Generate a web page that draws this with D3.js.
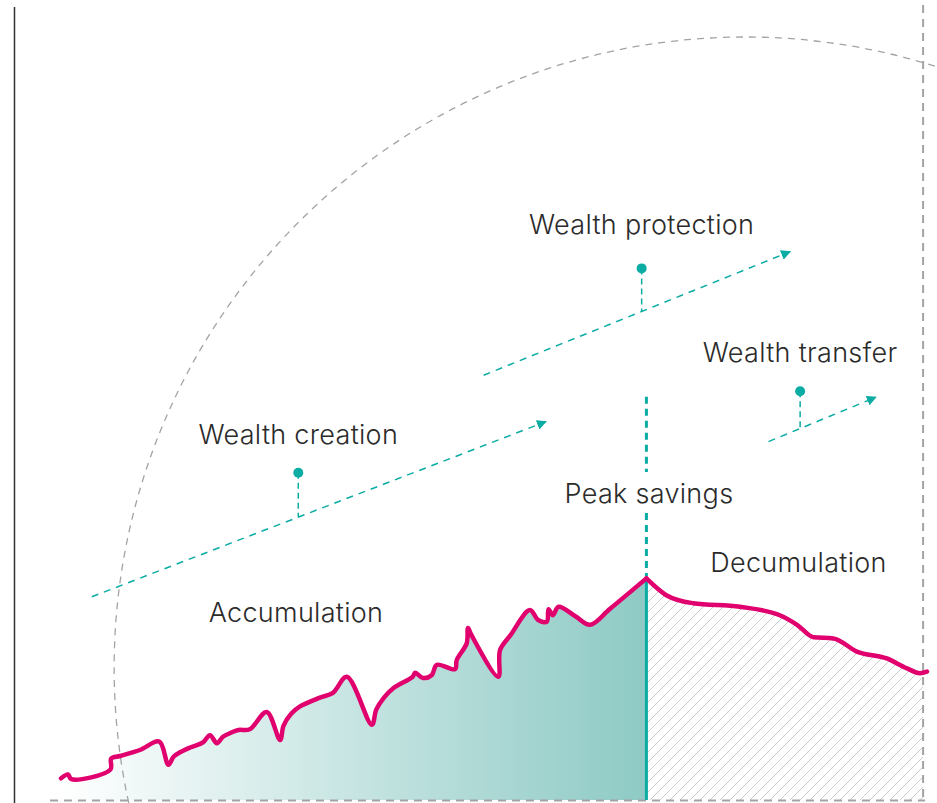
<!DOCTYPE html>
<html>
<head>
<meta charset="utf-8">
<script src="https://cdn.jsdelivr.net/npm/d3@7"></script>
<style>
  body { margin: 0; background: #fff; }
  text { font-family: Inter, "Noto Sans", sans-serif; font-weight: 300; fill: #2b2b2b; letter-spacing: 0.3px; }
</style>
</head>
<body>
<div id="chart"></div>
<script>
// wealth over time (t = life stage 0..100, w = wealth index)
var accumT = [0, 0.8, 1.2, 5.7, 5.8, 6.8, 9.1, 11.35, 12.4, 13.0, 13.8, 15.0, 16.4, 17.2, 18.0, 18.7, 19.6, 20.5, 21.8, 23.75, 25.3, 25.7, 26.6, 27.6, 29.9, 31.4, 33.0, 35.9, 36.4, 37.3, 38.4, 40.6, 40.9, 41.8, 42.8, 43.4, 45.5, 45.7, 46.85, 47.0, 47.4, 50.5, 50.7, 51.9, 54.15, 55.1, 56.1, 56.3, 56.8, 57.45, 59.35, 61.1, 63.4, 67.6];
var accumW = [2.7, 3.2, 2.6, 3.8, 5.2, 5.5, 6.25, 7.3, 4.4, 5.4, 6.0, 6.6, 7.2, 8.1, 7.1, 7.9, 8.4, 8.75, 8.85, 11.0, 7.5, 9.3, 10.8, 11.7, 12.8, 13.4, 15.4, 9.4, 11.3, 12.8, 14.0, 15.4, 15.9, 15.25, 15.6, 16.9, 16.35, 17.5, 19.6, 21.5, 20.6, 15.4, 18.75, 20.6, 23.75, 22.5, 22.3, 23.85, 23.1, 24.15, 23.0, 21.9, 23.9, 27.7];
var decumT = [67.6, 69.9, 73.0, 78.4, 83.0, 85.0, 86.9, 89.2, 91.9, 95.35, 97.7, 99.2, 100];
var decumW = [27.7, 25.6, 24.6, 24.15, 23.1, 21.9, 20.35, 20.2, 18.55, 17.7, 16.45, 15.85, 16.05];

// phase arrows
var phaseNames = ["Wealth creation", "Wealth protection", "Wealth transfer"];
var phaseStartT = [3.55, 48.8, 81.7];
var phaseStartW = [25.4, 53.1, 44.8];
var phaseEndT = [56.0, 84.2, 94.1];
var phaseEndW = [47.3, 68.55, 50.35];
var phaseDotT = [27.4, 67.05, 85.35];
var phaseDotW = [40.9, 66.45, 51.1];

var peakT = 67.6;
var peakTopW = 50.4;
var endT = 99.55;

var width = 937, height = 803;
var svg = d3.select("#chart").append("svg")
    .attr("width", width)
    .attr("height", height);

var x = d3.scaleLinear().domain([0, 100]).range([61, 927]);
var y = d3.scaleLinear().domain([0, 100]).range([800, 0]);

var teal = "#0aaca4";
var pink = "#e0006e";
var gray = "#a3a3a3";

var accum = accumT.map((t, i) => ({t: t, w: accumW[i]}));
var decum = decumT.map((t, i) => ({t: t, w: decumW[i]}));

var defs = svg.append("defs");
var grad = defs.append("linearGradient")
    .attr("id", "accGrad")
    .attr("gradientUnits", "userSpaceOnUse")
    .attr("x1", x(0)).attr("x2", x(peakT))
    .attr("y1", 0).attr("y2", 0);
grad.append("stop").attr("offset", "0%").attr("stop-color", "#ffffff");
grad.append("stop").attr("offset", "100%").attr("stop-color", "#8ecac5");

var hatch = defs.append("pattern")
    .attr("id", "hatch")
    .attr("patternUnits", "userSpaceOnUse")
    .attr("width", 10).attr("height", 10);
hatch.append("rect").attr("width", 10).attr("height", 10).attr("fill", "#fff");
hatch.append("path")
    .attr("d", "M-2,12 L12,-2 M-2,2 L2,-2 M8,12 L12,8")
    .attr("stroke", "#cacaca")
    .attr("stroke-width", 1);

var curve = d3.curveCatmullRom.alpha(0.5);

// accumulation area
svg.append("path")
    .datum(accum)
    .attr("fill", "url(#accGrad)")
    .attr("d", d3.area().curve(curve).x(d => x(d.t)).y0(y(0)).y1(d => y(d.w)));

// decumulation area (hatched), clipped at the right dashed line
defs.append("clipPath").attr("id", "decClip")
  .append("rect")
    .attr("x", x(peakT)).attr("y", 0)
    .attr("width", x(endT) - x(peakT)).attr("height", y(0));
svg.append("path")
    .datum(decum)
    .attr("clip-path", "url(#decClip)")
    .attr("fill", "url(#hatch)")
    .attr("d", d3.area().curve(d3.curveMonotoneX).x(d => x(d.t)).y0(y(0)).y1(d => y(d.w)));

// big dashed arc
svg.append("circle")
    .attr("cx", x(79)).attr("cy", y(16.5))
    .attr("r", 631)
    .attr("fill", "none")
    .attr("stroke", gray)
    .attr("stroke-width", 1.3)
    .attr("stroke-dasharray", "7,6");

// frame lines
svg.append("line")
    .attr("x1", 14.5).attr("x2", 14.5)
    .attr("y1", 7).attr("y2", height)
    .attr("stroke", "#333").attr("stroke-width", 1.5);
svg.append("line")
    .attr("x1", 50).attr("x2", x(endT) + 2)
    .attr("y1", y(0) + 0.5).attr("y2", y(0) + 0.5)
    .attr("stroke", gray).attr("stroke-width", 2)
    .attr("stroke-dasharray", "8,6");
svg.append("line")
    .attr("x1", x(endT)).attr("x2", x(endT))
    .attr("y1", 5).attr("y2", y(0))
    .attr("stroke", gray).attr("stroke-width", 2)
    .attr("stroke-dasharray", "8,6");

// peak savings marker
svg.append("line")
    .attr("x1", x(peakT)).attr("x2", x(peakT))
    .attr("y1", y(accumW[accumW.length - 1])).attr("y2", y(0))
    .attr("stroke", teal).attr("stroke-width", 3);
svg.append("line")
    .attr("x1", x(peakT)).attr("x2", x(peakT))
    .attr("y1", y(peakTopW)).attr("y2", 472)
    .attr("stroke", teal).attr("stroke-width", 3)
    .attr("stroke-dasharray", "7,5");
svg.append("line")
    .attr("x1", x(peakT)).attr("x2", x(peakT))
    .attr("y1", 513).attr("y2", y(accumW[accumW.length - 1]) - 2)
    .attr("stroke", teal).attr("stroke-width", 3)
    .attr("stroke-dasharray", "7,5");

// wealth line
var line = d3.line().x(d => x(d.t)).y(d => y(d.w));
svg.append("path")
    .datum(accum)
    .attr("fill", "none")
    .attr("stroke", pink).attr("stroke-width", 4.5)
    .attr("stroke-linejoin", "round").attr("stroke-linecap", "round")
    .attr("d", line.curve(curve));
svg.append("path")
    .datum(decum)
    .attr("fill", "none")
    .attr("stroke", pink).attr("stroke-width", 4.5)
    .attr("stroke-linejoin", "round").attr("stroke-linecap", "round")
    .attr("d", d3.line().curve(d3.curveMonotoneX).x(d => x(d.t)).y(d => y(d.w)));

// phase arrows
defs.append("marker")
    .attr("id", "arrow")
    .attr("viewBox", "0 0 10 10")
    .attr("refX", 9).attr("refY", 5)
    .attr("markerWidth", 10).attr("markerHeight", 10)
    .attr("markerUnits", "userSpaceOnUse")
    .attr("orient", "auto")
  .append("path")
    .attr("d", "M0,0 L10,5 L0,10 Z")
    .attr("fill", teal);

phaseNames.forEach((name, i) => {
    var x1 = x(phaseStartT[i]), y1 = y(phaseStartW[i]);
    var x2 = x(phaseEndT[i]), y2 = y(phaseEndW[i]);
    var dx = x(phaseDotT[i]), dy = y(phaseDotW[i]);
    var yOnLine = y1 + (y2 - y1) * (dx - x1) / (x2 - x1);

    svg.append("line")
        .attr("x1", x1).attr("y1", y1)
        .attr("x2", x2).attr("y2", y2)
        .attr("stroke", teal).attr("stroke-width", 1.5)
        .attr("stroke-dasharray", "7,6")
        .attr("marker-end", "url(#arrow)");

    svg.append("line")
        .attr("x1", dx).attr("x2", dx)
        .attr("y1", dy).attr("y2", yOnLine)
        .attr("stroke", teal).attr("stroke-width", 1.5)
        .attr("stroke-dasharray", "6,4");

    svg.append("circle")
        .attr("cx", dx).attr("cy", dy).attr("r", 5)
        .attr("fill", teal);

    svg.append("text")
        .attr("x", dx).attr("y", dy - (i == 1 ? 34 : 29))
        .attr("text-anchor", "middle")
        .attr("font-size", 27)
        .text(name);
});

// stage labels
svg.append("text")
    .attr("x", 296).attr("y", 622)
    .attr("text-anchor", "middle").attr("font-size", 27)
    .text("Accumulation");
svg.append("text")
    .attr("x", 798.5).attr("y", 572)
    .attr("text-anchor", "middle").attr("font-size", 27)
    .text("Decumulation");
svg.append("text")
    .attr("x", 649).attr("y", 503)
    .attr("text-anchor", "middle").attr("font-size", 27)
    .text("Peak savings");
</script>
</body>
</html>
